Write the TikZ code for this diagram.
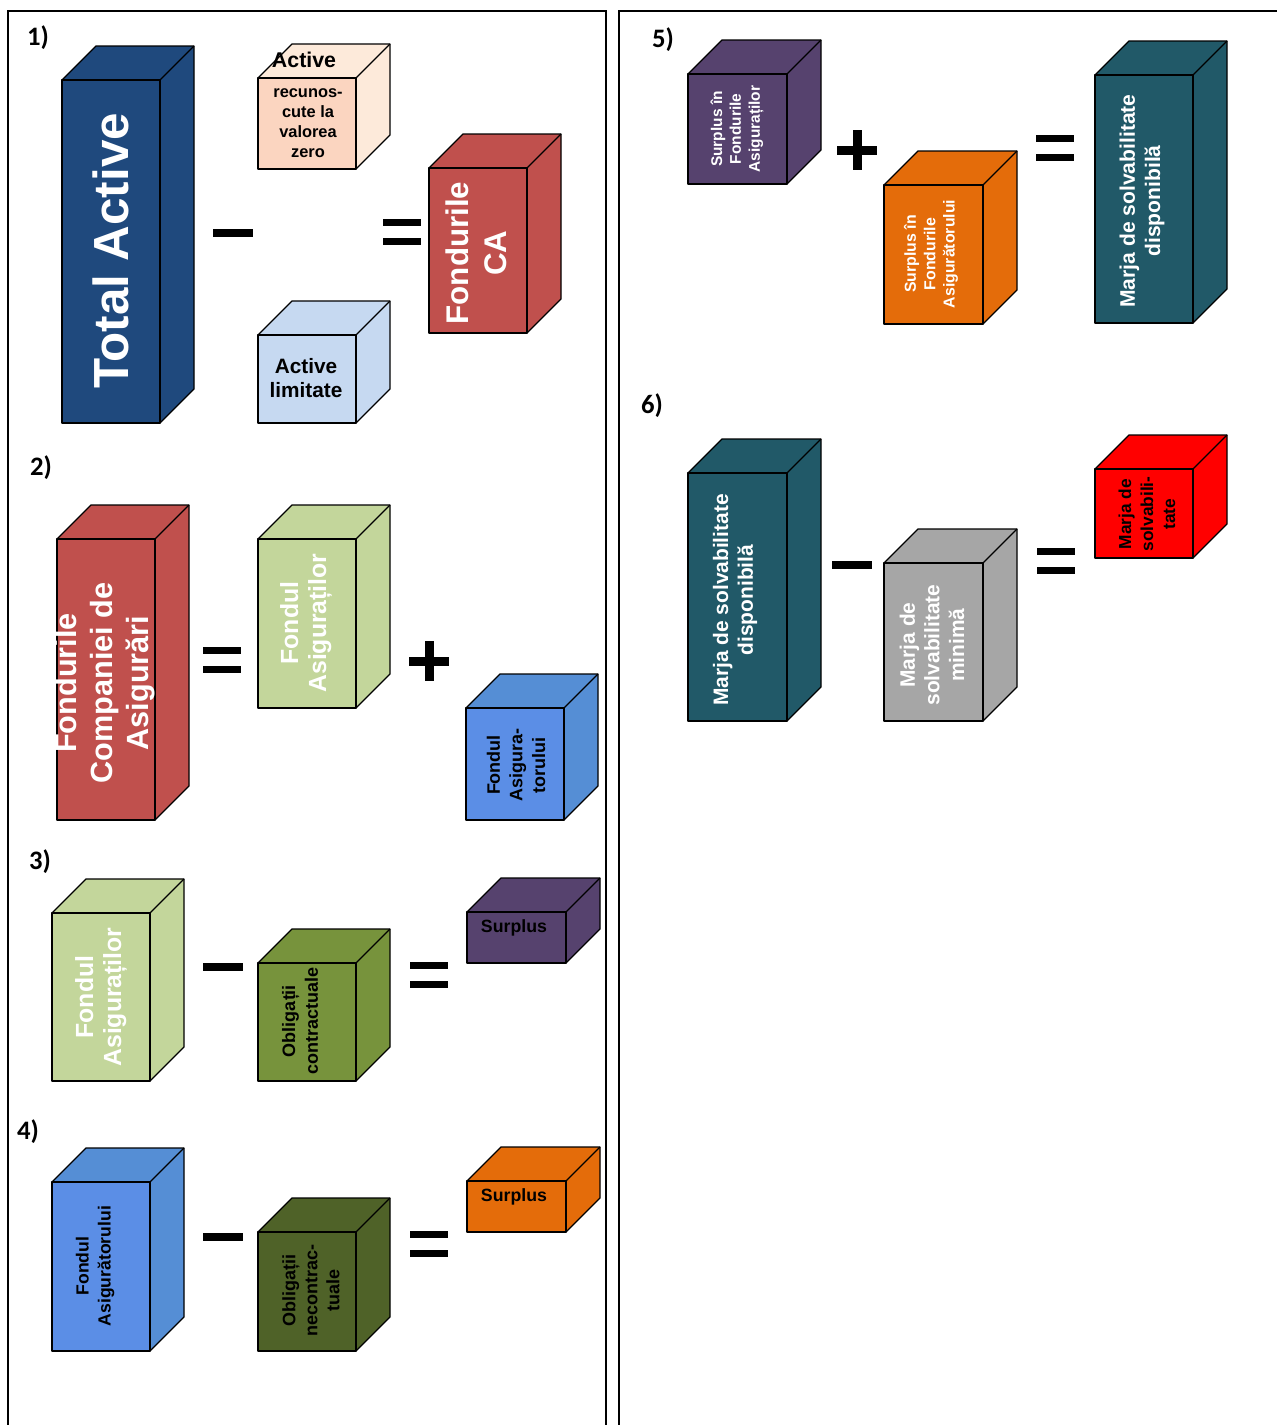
\documentclass[tikz,border=0pt]{standalone}
\usepackage{fontspec}
\setsansfont{Liberation Sans}
\newfontfamily\labelfont{Carlito}

\definecolor{navy}{HTML}{1F497D}
\definecolor{peachfront}{HTML}{FBD5C0}
\definecolor{peachside}{HTML}{FDEADA}
\definecolor{paleblue}{HTML}{C6D9F1}
\definecolor{brick}{HTML}{C0504D}
\definecolor{palegreen}{HTML}{C3D69B}
\definecolor{midblue}{HTML}{5B8EE6}
\definecolor{midblueside}{HTML}{558ED5}
\definecolor{olive}{HTML}{77933C}
\definecolor{darkolive}{HTML}{4F6228}
\definecolor{plum}{HTML}{56426E}
\definecolor{pumpkin}{HTML}{E46C0A}
\definecolor{teal}{HTML}{215968}
\definecolor{stone}{HTML}{A6A6A6}

\newcommand{\fsz}[2]{\fontsize{#1}{#2}\selectfont}
\def\cdepth{34}
% front rectangle (x1,y1)-(x2,y2), front colour, top/side colour
\newcommand{\cuboid}[6]{%
  \filldraw[cube, fill=#6] (#1,#2) -- (#1+\cdepth,#2-\cdepth) -- (#3+\cdepth,#2-\cdepth)
     -- (#3+\cdepth,#4-\cdepth) -- (#3,#4) -- (#3,#2) -- cycle;
  \draw[cube] (#3,#2) -- (#3+\cdepth,#2-\cdepth);
  \filldraw[cube, fill=#5] (#1,#2) rectangle (#3,#4);
}
\newcommand{\opminus}[2]{\fill[opbar] (#1-20,#2-4) rectangle (#1+20,#2+4);}
\newcommand{\opplus}[2]{%
  \fill[opbar] (#1-20,#2-4.5) rectangle (#1+20,#2+4.5);
  \fill[opbar] (#1-4.5,#2-20) rectangle (#1+4.5,#2+20);}
\newcommand{\opequal}[2]{%
  \fill[opbar] (#1-19,#2-13) rectangle (#1+19,#2-6);
  \fill[opbar] (#1-19,#2+6) rectangle (#1+19,#2+13);}

\tikzset{
  cube/.style={draw=black, line width=1pt, line join=round},
  vtext/.style={font=\sffamily\bfseries, align=center, rotate=90, inner sep=0pt},
  htext/.style={font=\sffamily\bfseries, align=center, inner sep=0pt},
  num/.style={font=\labelfont\bfseries\fsz{20}{24}, inner sep=0pt},
  opbar/.style={fill=black},
  panel/.style={draw=black, line width=1.1pt}
}

\begin{document}
\begin{tikzpicture}[x=0.75pt, y=-0.75pt]
\useasboundingbox (0,0) rectangle (1277,1425);

% panels
\draw[panel] (8,1430) -- (8,11) -- (606,11) -- (606,1430);
\draw[panel] (619,1430) -- (619,11) -- (1280,11);

% 1)
\node[num] (n1) at (38,38) {1)};
\cuboid{62}{80}{160}{423}{navy}{navy}
\node[vtext, text=white, font=\sffamily\bfseries\fsz{37}{42}] (total) at (111,251) {Total Active};
\cuboid{258}{78}{356}{169}{peachfront}{peachside}
\node[htext, font=\sffamily\bfseries\fsz{16}{19}] (activ) at (304,60) {Active};
\node[htext, font=\sffamily\bfseries\fsz{12.3}{15}] (nerec) at (308,123) {recunos-\\cute la\\valorea\\zero};
\cuboid{258}{335}{356}{423}{paleblue}{paleblue}
\node[htext, font=\sffamily\bfseries\fsz{15.6}{18}] (limit) at (306,378) {Active\\limitate};
\cuboid{429}{168}{527}{333}{brick}{brick}
\node[vtext, text=white, font=\sffamily\bfseries\fsz{23.5}{28.5}] (fondca) at (476,253) {Fondurile\\CA};
\opminus{233}{233}
\opequal{402}{232}

% 2)
\node[num] (n2) at (41,468) {2)};
\cuboid{57}{539}{155}{820}{brick}{brick}
\node[vtext, text=white, font=\sffamily\bfseries\fsz{23}{27}] (fcomp) at (105,683) {Fondurile\\Companiei de\\Asigurări};
\cuboid{258}{539}{356}{708}{palegreen}{palegreen}
\node[vtext, text=white, font=\sffamily\bfseries\fsz{18.6}{21}] (fasigA) at (306,623) {Fondul\\Asiguraților};
\cuboid{466}{708}{564}{820}{midblue}{midblueside}
\node[vtext, font=\sffamily\bfseries\fsz{13.5}{17}] (ftorA) at (516,765) {Fondul\\Asigura-\\torului};
\opequal{222}{660}
\opplus{429}{661}

% 3)
\node[num] (n3) at (40,862) {3)};
\cuboid{52}{913}{150}{1081}{palegreen}{palegreen}
\node[vtext, text=white, font=\sffamily\bfseries\fsz{18.6}{21}] (fasigB) at (101,997) {Fondul\\Asiguraților};
\cuboid{258}{963}{356}{1081}{olive}{olive}
\node[vtext, font=\sffamily\bfseries\fsz{13.5}{17}] (obligA) at (300,1021) {Obligații\\contractuale};
\cuboid{467}{912}{566}{963}{plum}{plum}
\node[htext, font=\sffamily\bfseries\fsz{13.3}{16}] (surpA) at (514,928) {Surplus};
\opminus{223}{967}
\opequal{429}{975}

% 4)
\node[num] (n4) at (28,1132) {4)};
\cuboid{52}{1182}{150}{1351}{midblue}{midblueside}
\node[vtext, font=\sffamily\bfseries\fsz{13.2}{16.5}] (ftorB) at (95,1266) {Fondul\\Asigurătorului};
\cuboid{258}{1232}{356}{1351}{darkolive}{darkolive}
\node[vtext, font=\sffamily\bfseries\fsz{13.5}{16.5}] (obligB) at (311,1290) {Obligații\\necontrac-\\tuale};
\cuboid{467}{1181}{566}{1232}{pumpkin}{pumpkin}
\node[htext, font=\sffamily\bfseries\fsz{13.3}{16}] (surpB) at (514,1197) {Surplus};
\opminus{223}{1237}
\opequal{429}{1244}

% 5)
\node[num] (n5) at (663,40) {5)};
\cuboid{688}{74}{787}{184}{plum}{plum}
\node[vtext, text=white, font=\sffamily\bfseries\fsz{11.6}{14.2}] (sfasig) at (737,129) {Surplus în\\Fondurile\\Asiguraților};
\cuboid{884}{185}{983}{324}{pumpkin}{pumpkin}
\node[vtext, text=white, font=\sffamily\bfseries\fsz{11.9}{14.5}] (sftor) at (931,254) {Surplus în\\Fondurile\\Asigurătorului};
\cuboid{1095}{75}{1193}{323}{teal}{teal}
\node[vtext, text=white, font=\sffamily\bfseries\fsz{15.8}{19}] (mdispA) at (1142,201) {Marja de solvabilitate\\disponibilă};
\opplus{857}{150}
\opequal{1055}{148}

% 6)
\node[num] (n6) at (652,406) {6)};
\cuboid{688}{473}{787}{721}{teal}{teal}
\node[vtext, text=white, font=\sffamily\bfseries\fsz{15.7}{18.5}] (mdispB) at (735,600) {Marja de solvabilitate\\disponibilă};
\cuboid{884}{563}{983}{721}{stone}{stone}
\node[vtext, text=white, font=\sffamily\bfseries\fsz{15.7}{18.5}] (mmin) at (932,645) {Marja de\\solvabilitate\\minimă};
\cuboid{1095}{469}{1193}{558}{red}{red}
\node[vtext, font=\sffamily\bfseries\fsz{13}{16.5}] (msolv) at (1147,514) {Marja de\\solvabili-\\tate};
\opminus{852}{565}
\opequal{1056}{561}
\end{tikzpicture}
\end{document}
